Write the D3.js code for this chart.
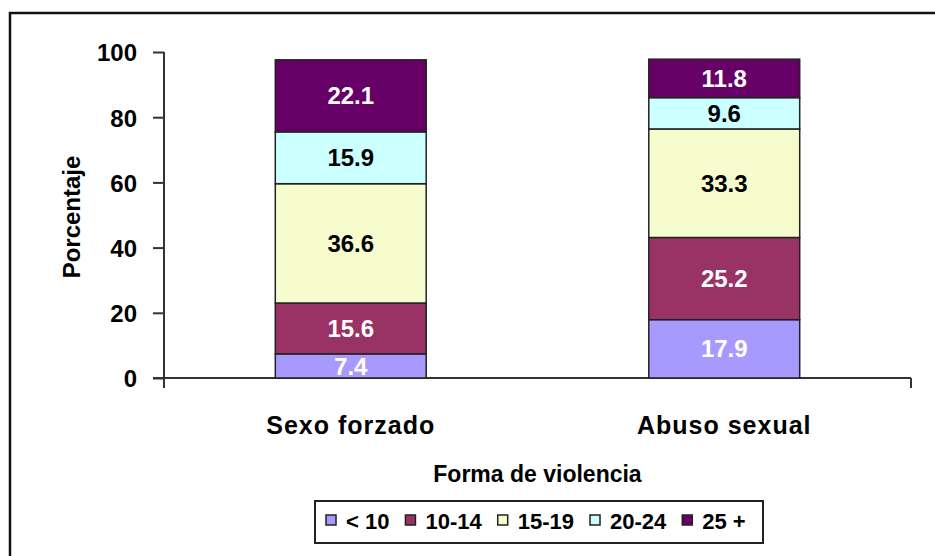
<!DOCTYPE html>
<html>
<head>
<meta charset="utf-8">
<script src="https://cdn.jsdelivr.net/npm/d3@7"></script>
<style>
  body { margin: 0; background: #fff; }
  text { font-family: Arial, "Liberation Sans", sans-serif; font-weight: bold; fill: #000; }
</style>
</head>
<body>
<div id="chart"></div>
<script>
var categories = ["Sexo forzado", "Abuso sexual"];
var groups = ["< 10", "10-14", "15-19", "20-24", "25 +"];
var under10 = [7.4, 17.9];
var age10to14 = [15.6, 25.2];
var age15to19 = [36.6, 33.3];
var age20to24 = [15.9, 9.6];
var age25plus = [22.1, 11.8];
var yTicks = [0, 20, 40, 60, 80, 100];

var colors = ["#a899ff", "#993366", "#f7fccf", "#ccffff", "#660066"];
var labelColors = ["#fff", "#fff", "#000", "#000", "#fff"];

var width = 935, height = 556;
var margin = {left: 164, right: 24, top: 52, bottom: 178};

var svg = d3.select("#chart").append("svg")
    .attr("width", width)
    .attr("height", height);

// outer frame (runs off the right and bottom edges)
svg.append("rect")
    .attr("x", 10).attr("y", 13)
    .attr("width", width).attr("height", height)
    .attr("fill", "none")
    .attr("stroke", "#111")
    .attr("stroke-width", 2.5);

var table = categories.map(function(c, i) {
  return {cat: c, "< 10": under10[i], "10-14": age10to14[i], "15-19": age15to19[i],
          "20-24": age20to24[i], "25 +": age25plus[i]};
});

var stack = d3.stack().keys(groups)(table);

var x = d3.scaleBand()
    .domain(categories)
    .range([margin.left, width - margin.right])
    .paddingInner(0.596)
    .paddingOuter(0.298);

var y = d3.scaleLinear()
    .domain([0, 100])
    .range([height - margin.bottom, margin.top]);

var y0 = y(0);

// y axis
var yAxis = d3.axisLeft(y)
    .tickValues(yTicks)
    .tickSize(11)
    .tickPadding(16)
    .tickSizeOuter(0);

var yg = svg.append("g")
    .attr("transform", "translate(" + margin.left + ",0)")
    .call(yAxis);
yg.select(".domain").remove();
yg.selectAll("line").attr("stroke", "#333").attr("stroke-width", 2);
yg.selectAll("text").style("font-size", "24px").attr("dy", "0.37em");
yg.append("line")
    .attr("x1", 0).attr("x2", 0)
    .attr("y1", y(100)).attr("y2", y0 + 10)
    .attr("stroke", "#333").attr("stroke-width", 2);

// x axis line with end tick
svg.append("line")
    .attr("x1", margin.left - 11).attr("x2", width - margin.right)
    .attr("y1", y0).attr("y2", y0)
    .attr("stroke", "#333").attr("stroke-width", 2);
svg.append("line")
    .attr("x1", width - margin.right).attr("x2", width - margin.right)
    .attr("y1", y0).attr("y2", y0 + 10)
    .attr("stroke", "#333").attr("stroke-width", 2);

// category labels
svg.selectAll(".cat")
    .data(categories)
  .enter().append("text")
    .attr("class", "cat")
    .attr("x", function(d) { return x(d) + x.bandwidth() / 2; })
    .attr("y", y0 + 56)
    .attr("text-anchor", "middle")
    .style("font-size", "25px")
    .style("letter-spacing", "1px")
    .text(function(d) { return d; });

// bars
var layer = svg.selectAll(".layer")
    .data(stack)
  .enter().append("g")
    .attr("class", "layer");

layer.selectAll("rect")
    .data(function(d) { return d.map(function(v) { return {key: d.key, idx: d.index, v: v}; }); })
  .enter().append("rect")
    .attr("x", function(d) { return x(d.v.data.cat); })
    .attr("y", function(d) { return y(d.v[1]); })
    .attr("width", x.bandwidth())
    .attr("height", function(d) { return y(d.v[0]) - y(d.v[1]); })
    .attr("fill", function(d) { return colors[d.idx]; })
    .attr("stroke", "#222")
    .attr("stroke-width", 1.5);

layer.selectAll("text")
    .data(function(d) { return d.map(function(v) { return {key: d.key, idx: d.index, v: v}; }); })
  .enter().append("text")
    .attr("x", function(d) { return x(d.v.data.cat) + x.bandwidth() / 2; })
    .attr("y", function(d) { return (y(d.v[0]) + y(d.v[1])) / 2; })
    .attr("dy", "0.36em")
    .attr("text-anchor", "middle")
    .style("font-size", "24px")
    .style("fill", function(d) { return labelColors[d.idx]; })
    .text(function(d) { return d3.format(".1f")(d.v[1] - d.v[0]); });

// axis titles
svg.append("text")
    .attr("transform", "translate(80," + (y(50) + 2) + ") rotate(-90)")
    .attr("text-anchor", "middle")
    .style("font-size", "24px")
    .text("Porcentaje");

svg.append("text")
    .attr("x", (margin.left + width - margin.right) / 2)
    .attr("y", 482)
    .attr("text-anchor", "middle")
    .style("font-size", "23px")
    .text("Forma de violencia");

// legend
var legend = svg.append("g");
legend.append("rect")
    .attr("x", 315).attr("y", 501)
    .attr("width", 448).attr("height", 42)
    .attr("fill", "#fff")
    .attr("stroke", "#222")
    .attr("stroke-width", 2);

var lx = 326;
groups.forEach(function(g, i) {
  legend.append("rect")
    .attr("x", lx).attr("y", 515)
    .attr("width", 10).attr("height", 10)
    .attr("fill", colors[i])
    .attr("stroke", "#222")
    .attr("stroke-width", 1.5);
  var t = legend.append("text")
    .attr("x", lx + 20).attr("y", 529)
    .style("font-size", "22px")
    .text(g);
  lx = lx + 20 + t.node().getComputedTextLength() + 16;
});
</script>
</body>
</html>
